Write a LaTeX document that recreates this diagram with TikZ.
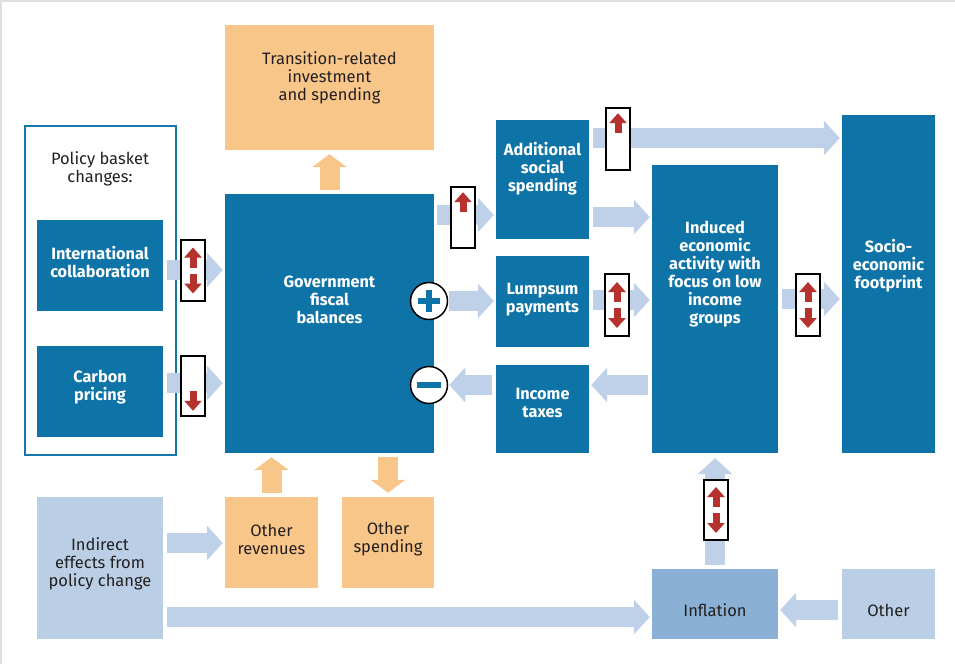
\documentclass[tikz,border=0pt]{standalone}
\usepackage{fontspec}
\setmainfont{Fira Sans}
\usepackage{xcolor}
\usetikzlibrary{arrows.meta}

\definecolor{irblue}{HTML}{0E74A8}
\definecolor{orng}{HTML}{F9C68A}
\definecolor{ltblue}{HTML}{BACFE6}
\definecolor{midblue}{HTML}{8AB0D5}
\definecolor{flowblue}{HTML}{BED1E8}
\definecolor{arrred}{HTML}{B6322E}
\definecolor{txtdark}{HTML}{231F20}
\definecolor{frameline}{HTML}{1677AA}

\begin{document}
\begin{tikzpicture}[x=1pt,y=-1pt,
  wh/.style 2 args={minimum width=#1pt,minimum height=#2pt,inner sep=0pt},
  blk/.style={fill=irblue},
  obox/.style={fill=orng},
  lbox/.style={fill=ltblue},
  wtxt/.style={text=white,font=\bfseries\fontsize{16.3}{18}\selectfont,align=center},
  dtxt/.style={text=txtdark,font=\fontsize{16.5}{18}\selectfont,align=center},
  flow/.style={draw=flowblue,line width=20pt,shorten <=4pt,shorten >=2pt,
    -{Triangle[width=34pt,length=16pt]}},
  oflow/.style={draw=orng,line width=20pt,shorten <=4pt,shorten >=4pt,
    -{Triangle[width=34pt,length=13pt]}},
  ind/.style={draw=black,line width=1.6pt,fill=white,minimum width=24pt,minimum height=61pt,inner sep=0pt},
  sgn/.style={circle,draw=black,line width=1.5pt,fill=white,minimum size=37pt,inner sep=0pt},
  redarr/.style={draw=arrred,line width=7pt,-{Triangle[width=17pt,length=10pt]}}]
  \useasboundingbox (0,0) rectangle (955,664);
  \draw[black!12,line width=2pt] (0,1) -- (955,1) (1,0) -- (1,664);

  %% policy basket
  \node[wh={151}{329},draw=frameline,line width=1.5pt] (basket) at (100.5,290.5) {};
  \node[dtxt] (basket-t) at (100,169) {Policy basket\\changes:};
  \node[blk,wh={126}{91}] (intl) at (100,265.5) {};
  \node[wtxt] (intl-t) at (100,262.5) {International\\collaboration};
  \node[blk,wh={126}{91}] (carbon) at (100,391.5) {};
  \node[wtxt] (carbon-t) at (100,387) {Carbon\\pricing};

  %% fiscal block
  \node[blk,wh={209}{259}] (gov) at (329.5,323.5) {};
  \node[wtxt] (gov-t) at (329.5,300) {Government\\fiscal\\balances};
  \node[obox,wh={209}{125}] (trans) at (329.5,87.5) {};
  \node[dtxt] (trans-t) at (329.5,78) {Transition-related\\investment\\and spending};
  \node[obox,wh={93}{91}] (othrev) at (271.5,542.5) {};
  \node[dtxt] (othrev-t) at (271.5,539) {Other\\revenues};
  \node[obox,wh={92}{91}] (othsp) at (388,542.5) {};
  \node[dtxt] (othsp-t) at (388,539) {Other\\spending};

  %% transfers
  \node[blk,wh={93}{119}] (add) at (542.5,179.5) {};
  \node[wtxt] (add-t) at (542.5,169) {Additional\\social\\spending};
  \node[blk,wh={93}{91}] (lump) at (542.5,301.5) {};
  \node[wtxt] (lump-t) at (542.5,300) {Lumpsum\\payments};
  \node[blk,wh={93}{88}] (tax) at (542.5,409) {};
  \node[wtxt] (tax-t) at (542.5,403) {Income\\taxes};

  %% economy
  \node[blk,wh={126}{288}] (induced) at (715,309) {};
  \node[wtxt] (induced-t) at (715,274) {Induced\\economic\\activity with\\focus on low\\income\\groups};
  \node[blk,wh={93}{338}] (socio) at (888.5,284) {};
  \node[wtxt] (socio-t) at (888.5,266) {Socio-\\economic\\footprint};

  %% bottom row
  \node[lbox,wh={126}{142}] (indirect) at (100,568) {};
  \node[dtxt] (indirect-t) at (100,564) {Indirect\\effects from\\policy change};
  \node[fill=midblue,wh={126}{70}] (infl) at (715,604) {};
  \node[dtxt] (infl-t) at (715,610) {Inflation};
  \node[lbox,wh={93}{70}] (other) at (888.5,604) {};
  \node[dtxt] (other-t) at (888.5,610) {Other};

  % signs on the government box
  \node[sgn] (plus) at (429,301) {};
  \node[sgn] (minus) at (429,385) {};
  \draw[irblue,line width=6pt] (plus.center) ++(-11,0) -- ++(22,0)
    (plus.center) ++(0,-11) -- ++(0,22);
  \draw[irblue,line width=6pt] (minus.center) ++(-12,0) -- ++(24,0);

  % flows
  \draw[flow] (intl.east |- 0,270) -- (gov.west |- 0,270);
  \draw[flow] (carbon.east |- 0,383) -- (gov.west |- 0,383);
  \draw[flow,shorten <=3pt] (gov.east |- 0,215) -- (add.west |- 0,215);
  \draw[flow,shorten <=1pt] (plus.east) -- (lump.west |- plus);
  \draw[flow,shorten >=1pt] (tax.west |- minus) -- (minus.east);
  \draw[flow] (add.east |- 0,138) -- (socio.west |- 0,138);
  \draw[flow] (add.east |- 0,217) -- (induced.west |- 0,217);
  \draw[flow] (lump.east |- 0,300) -- (induced.west |- 0,300);
  \draw[flow] (induced.west |- 0,385) -- (tax.east |- 0,385);
  \draw[flow] (induced.east |- 0,299) -- (socio.west |- 0,299);
  \draw[flow] (indirect.east |- 0,543) -- (othrev.west |- 0,543);
  \draw[flow] (indirect.east |- 0,617) -- (infl.west |- 0,617);
  \draw[flow] (other.west |- 0,610) -- (infl.east |- 0,610);
  \draw[flow,shorten >=5pt] (infl.north) -- (induced.south);
  \draw[oflow] (gov.north) -- (trans.south);
  \draw[oflow] (othrev.north) -- (gov.south -| othrev);
  \draw[oflow] (gov.south -| othsp) -- (othsp.north);

  % change indicators
  \node[ind] (ind1) at (193,270.5) {};
  \node[ind,minimum height=60pt] (ind2) at (193,386) {};
  \node[ind] (ind3) at (463,217.5) {};
  \node[ind,minimum height=62pt] (ind4) at (618,139) {};
  \node[ind,minimum height=62pt] (ind5) at (617,305) {};
  \node[ind,minimum height=62pt] (ind6) at (808,305) {};
  \node[ind,minimum height=60pt] (ind7) at (716,510) {};
  \foreach \n in {ind1,ind5,ind6,ind7} {
    \draw[redarr] (\n.center) ++(0,-3) -- ++(0,-20);
    \draw[redarr] (\n.center) ++(0,3) -- ++(0,20);
  }
  \foreach \n in {ind3,ind4}
    \draw[redarr] (\n.north) ++(0,26) -- ++(0,-20);
  \draw[redarr] (ind2.south) ++(0,-26) -- ++(0,20);
\end{tikzpicture}
\end{document}
